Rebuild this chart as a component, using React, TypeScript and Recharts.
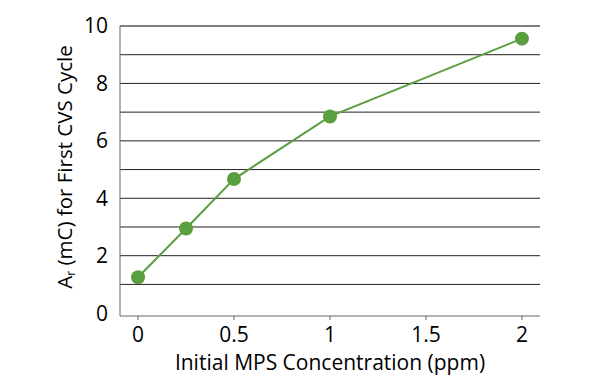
import React from 'react';
import {
  CartesianGrid,
  Label,
  Line,
  LineChart,
  ReferenceLine,
  XAxis,
  YAxis,
} from 'recharts';

// values
const concentrations = [0, 0.25, 0.5, 1, 2];
const charge = [1.25, 2.95, 4.67, 6.85, 9.56];
const xTicks = [0, 0.5, 1, 1.5, 2];
const yTicks = [0, 2, 4, 6, 8, 10];
const gridLines = [1, 2, 3, 4, 5, 6, 7, 8, 9];

const data = concentrations.map((c, i) => ({ c, ar: charge[i] }));

const FONT = '"Open Sans", "Noto Sans", sans-serif';
const GREEN = '#5a9e3f';

const YTitle = () => {
  const cx = 64;
  const cy = 167;
  return (
    <text
      x={cx}
      y={cy}
      transform={`rotate(-90, ${cx}, ${cy})`}
      textAnchor="middle"
      dominantBaseline="central"
      fontFamily={FONT}
      fontSize={20.5}
      fontWeight={500}
      fill="#000"
    >
      A<tspan fontSize={12} dy={6}>r</tspan>
      <tspan dy={-6}> (mC) for First CVS Cycle</tspan>
    </text>
  );
};

export default function App() {
  return (
    <div style={{ position: 'absolute', left: 0, top: 0, background: '#fff' }}>
      <LineChart
        width={600}
        height={384}
        data={data}
        margin={{ top: 26, right: 60, bottom: 0, left: 0 }}
      >
        <CartesianGrid
          vertical={false}
          horizontalValues={gridLines}
          stroke="#222"
          strokeWidth={1}
        />
        <XAxis
          dataKey="c"
          type="number"
          domain={[-0.094, 2.094]}
          ticks={xTicks}
          allowDataOverflow
          height={68}
          stroke="#666"
          tickSize={4}
          tickMargin={7}
          tick={{ fill: '#000', fontSize: 21, fontFamily: FONT, fontWeight: 500 }}
        >
          <Label
            value="Initial MPS Concentration (ppm)"
            position="insideBottom"
            offset={14}
            fill="#000"
            fontSize={21}
            fontWeight={500}
            fontFamily={FONT}
          />
        </XAxis>
        <YAxis
          type="number"
          domain={[-0.1, 10]}
          ticks={yTicks}
          allowDataOverflow
          width={120}
          stroke="#666"
          tickLine={false}
          tickSize={0}
          tickMargin={12}
          tick={{ fill: '#000', fontSize: 21, fontFamily: FONT, fontWeight: 500 }}
        >
          <Label content={<YTitle />} />
        </YAxis>
        {/* right box edge */}
        <YAxis yAxisId="right" orientation="right" domain={[-0.1, 10]} tick={false} tickLine={false} width={0} stroke="#666" />
        {/* top box edge */}
        <ReferenceLine y={10} yAxisId={0} stroke="#555" strokeWidth={1.5} ifOverflow="visible" />
        <Line
          dataKey="ar"
          stroke={GREEN}
          strokeWidth={2}
          dot={{ r: 7, fill: GREEN, stroke: GREEN, strokeWidth: 0 }}
          isAnimationActive={false}
        />
      </LineChart>
    </div>
  );
}
